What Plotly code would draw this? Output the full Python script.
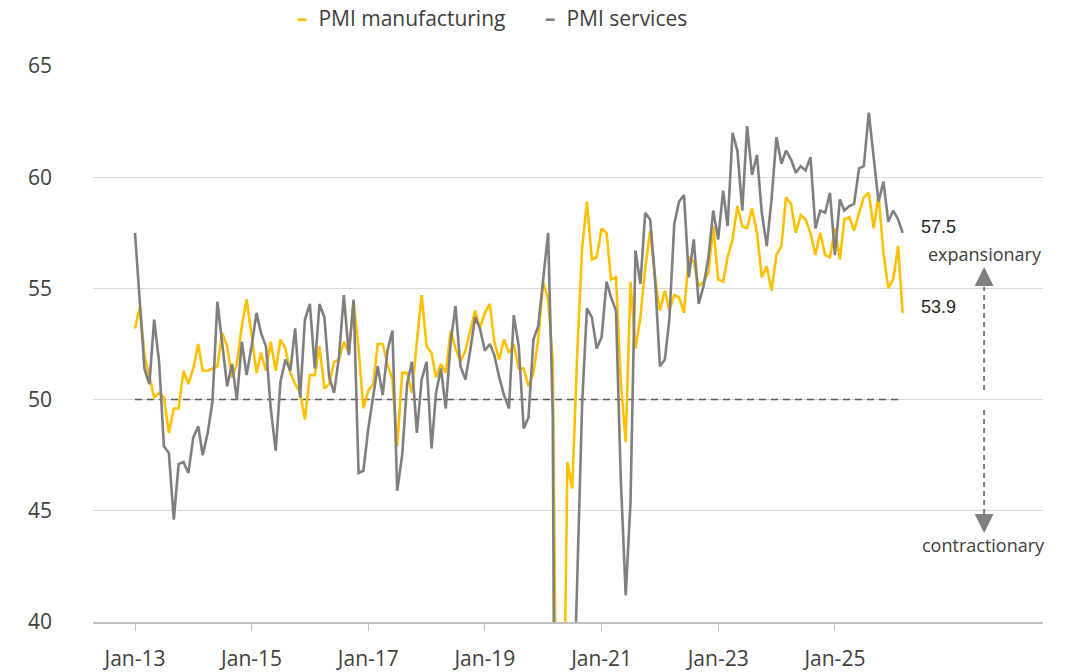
import pandas as pd
import plotly.graph_objects as go

# monthly PMI readings, Jan-13 .. Mar-26
months = pd.date_range("2013-01-01", periods=159, freq="MS")

pmi_manufacturing = [
    53.2, 54.2, 52.0, 51.0, 50.1, 50.3, 50.1, 48.5, 49.6, 49.6, 51.3, 50.7,
    51.4, 52.5, 51.3, 51.3, 51.4, 51.5, 53.0, 52.4, 51.0, 51.6, 53.3, 54.5,
    52.9, 51.2, 52.1, 51.3, 52.6, 51.3, 52.7, 52.3, 51.2, 50.7, 50.3, 49.1,
    51.1, 51.1, 52.4, 50.5, 50.7, 51.7, 51.8, 52.6, 52.1, 54.4, 52.3, 49.6,
    50.4, 50.7, 52.5, 52.5, 51.6, 50.9, 47.9, 51.2, 51.2, 50.3, 52.6, 54.7,
    52.4, 52.1, 51.0, 51.6, 51.2, 53.1, 52.3, 51.7, 52.2, 53.1, 54.0, 53.2,
    53.9, 54.3, 52.6, 51.8, 52.7, 52.1, 52.5, 51.4, 51.4, 50.6, 51.2, 52.7,
    55.3, 54.5, 51.8, 27.4, 30.8, 47.2, 46.0, 52.0, 56.8, 58.9, 56.3, 56.4,
    57.7, 57.5, 55.4, 55.5, 50.8, 48.1, 55.3, 52.3, 53.7, 55.9, 57.6, 55.5,
    54.0, 54.9, 54.0, 54.7, 54.6, 53.9, 56.4, 56.2, 55.1, 55.3, 55.7, 57.8,
    55.4, 55.3, 56.4, 57.2, 58.7, 57.8, 57.7, 58.6, 57.5, 55.5, 56.0, 54.9,
    56.5, 56.9, 59.1, 58.8, 57.5, 58.3, 58.1, 57.5, 56.5, 57.5, 56.5, 56.4,
    57.7, 56.3, 58.1, 58.2, 57.6, 58.4, 59.1, 59.3, 57.7, 59.2, 56.6, 55.0,
    55.4, 56.9, 53.9,
]

pmi_services = [
    57.5, 54.2, 51.4, 50.7, 53.6, 51.7, 47.9, 47.6, 44.6, 47.1, 47.2, 46.7,
    48.3, 48.8, 47.5, 48.5, 49.9, 54.4, 52.5, 50.6, 51.6, 50.0, 52.6, 51.1,
    52.4, 53.9, 53.0, 52.4, 49.6, 47.7, 50.8, 51.8, 51.3, 53.2, 50.1, 53.6,
    54.3, 51.4, 54.3, 53.7, 51.0, 50.3, 51.9, 54.7, 52.0, 54.5, 46.7, 46.8,
    48.7, 50.3, 51.5, 50.2, 52.2, 53.1, 45.9, 47.5, 50.7, 51.7, 48.5, 50.9,
    51.7, 47.8, 50.3, 51.4, 49.6, 52.6, 54.2, 51.5, 50.9, 52.2, 53.7, 53.2,
    52.2, 52.5, 52.0, 51.0, 50.2, 49.6, 53.8, 52.4, 48.7, 49.2, 52.7, 53.3,
    55.5, 57.5, 49.3, 5.4, 12.6, 33.7, 34.2, 41.8, 49.8, 54.1, 53.7, 52.3,
    52.8, 55.3, 54.6, 54.0, 46.4, 41.2, 45.4, 56.7, 55.2, 58.4, 58.1, 55.5,
    51.5, 51.8, 53.6, 57.9, 58.9, 59.2, 55.5, 57.2, 54.3, 55.1, 56.4, 58.5,
    57.2, 59.4, 57.8, 62.0, 61.2, 58.5, 62.3, 60.1, 61.0, 58.4, 56.9, 59.0,
    61.8, 60.6, 61.2, 60.8, 60.2, 60.5, 60.3, 60.9, 57.7, 58.5, 58.4, 59.3,
    56.5, 59.0, 58.5, 58.7, 58.8, 60.4, 60.5, 62.9, 60.9, 58.9, 59.8, 58.0,
    58.5, 58.1, 57.5,
]

tick_dates = pd.date_range("2013-01-01", "2025-01-01", freq="24MS")
threshold = 50

YELLOW = "#FFC000"
GREY = "#7F7F7F"
TEXT = "#404040"
FONT = "Open Sans"

fig = go.Figure()

# 50 = expansion / contraction line
fig.add_trace(go.Scatter(
    x=months, y=[threshold] * len(months), mode="lines",
    line=dict(color="#595959", width=1.5, dash="7px,5px"),
    showlegend=False, hoverinfo="skip"))

fig.add_trace(go.Scatter(
    x=months, y=pmi_manufacturing, mode="lines", name="PMI manufacturing",
    line=dict(color=YELLOW, width=2.6), showlegend=False))
fig.add_trace(go.Scatter(
    x=months, y=pmi_services, mode="lines", name="PMI services",
    line=dict(color=GREY, width=2.6), showlegend=False))

# legend drawn as text, short dashes like the original
legend_items = [("PMI manufacturing", YELLOW, 0.2125), ("PMI services", GREY, 0.4735)]
for name, col, xpos in legend_items:
    fig.add_annotation(
        x=xpos, y=1.086, xref="paper", yref="paper", xanchor="left", yanchor="middle",
        text="<span style='color:%s'><b>\u2013</b></span>  %s" % (col, name),
        showarrow=False, font=dict(family=FONT, size=21, color=TEXT))

# last values
for series in (pmi_services, pmi_manufacturing):
    fig.add_annotation(
        x=months[-1], y=series[-1], xanchor="left", yanchor="middle",
        xshift=16, yshift=6, text="%.1f" % series[-1], showarrow=False,
        font=dict(family="Liberation Sans", size=18, color="#262626"))

# expansionary / contractionary arrows
ax_x = 0.938
fig.add_shape(type="line", xref="paper", yref="y", x0=ax_x, x1=ax_x, y0=50.43, y1=55.06,
              line=dict(color=GREY, width=2, dash="5px,4px"))
fig.add_shape(type="line", xref="paper", yref="y", x0=ax_x, x1=ax_x, y0=49.53, y1=44.72,
              line=dict(color=GREY, width=2, dash="5px,4px"))
fig.add_annotation(x=ax_x, y=55.96, xref="paper", yref="y", ax=0, ay=16, text="",
                   showarrow=True, arrowhead=2, arrowsize=1.9, arrowwidth=2, arrowcolor=GREY)
fig.add_annotation(x=ax_x, y=44.0, xref="paper", yref="y", ax=0, ay=-16, text="",
                   showarrow=True, arrowhead=2, arrowsize=1.9, arrowwidth=2, arrowcolor=GREY)
fig.add_annotation(x=0.939, y=56.55, xref="paper", yref="y", xanchor="center", yanchor="middle",
                   text="expansionary", showarrow=False,
                   font=dict(family=FONT, size=18, color=TEXT))
fig.add_annotation(x=0.937, y=43.45, xref="paper", yref="y", xanchor="center", yanchor="middle",
                   text="contractionary", showarrow=False,
                   font=dict(family=FONT, size=18, color=TEXT))

fig.update_layout(
    width=1069, height=672,
    margin=dict(l=93, r=26, t=66, b=50),
    paper_bgcolor="white", plot_bgcolor="white",
    font=dict(family=FONT, size=21, color=TEXT),
    showlegend=False,
)
fig.update_xaxes(
    type="date", range=["2012-04-13", "2028-07-27"],
    tickvals=tick_dates, tickformat="%b-%y",
    showgrid=False, zeroline=False, automargin=False,
    showline=True, linecolor="#BFBFBF", linewidth=2,
    ticks="outside", ticklen=7, tickcolor="#BFBFBF", tickwidth=1,
    ticklabelstandoff=10,
)
fig.update_yaxes(
    range=[40, 65], dtick=5, showgrid=True, gridcolor="#D9D9D9", gridwidth=1,
    zeroline=False, showline=False, ticks="", ticklabelstandoff=40,
    automargin=False,
)

# drop the default page margin so the figure sits at the window's corner
fig.write_html("out.html", config={"displayModeBar": False},
               post_script="document.body.style.margin = '0';")
